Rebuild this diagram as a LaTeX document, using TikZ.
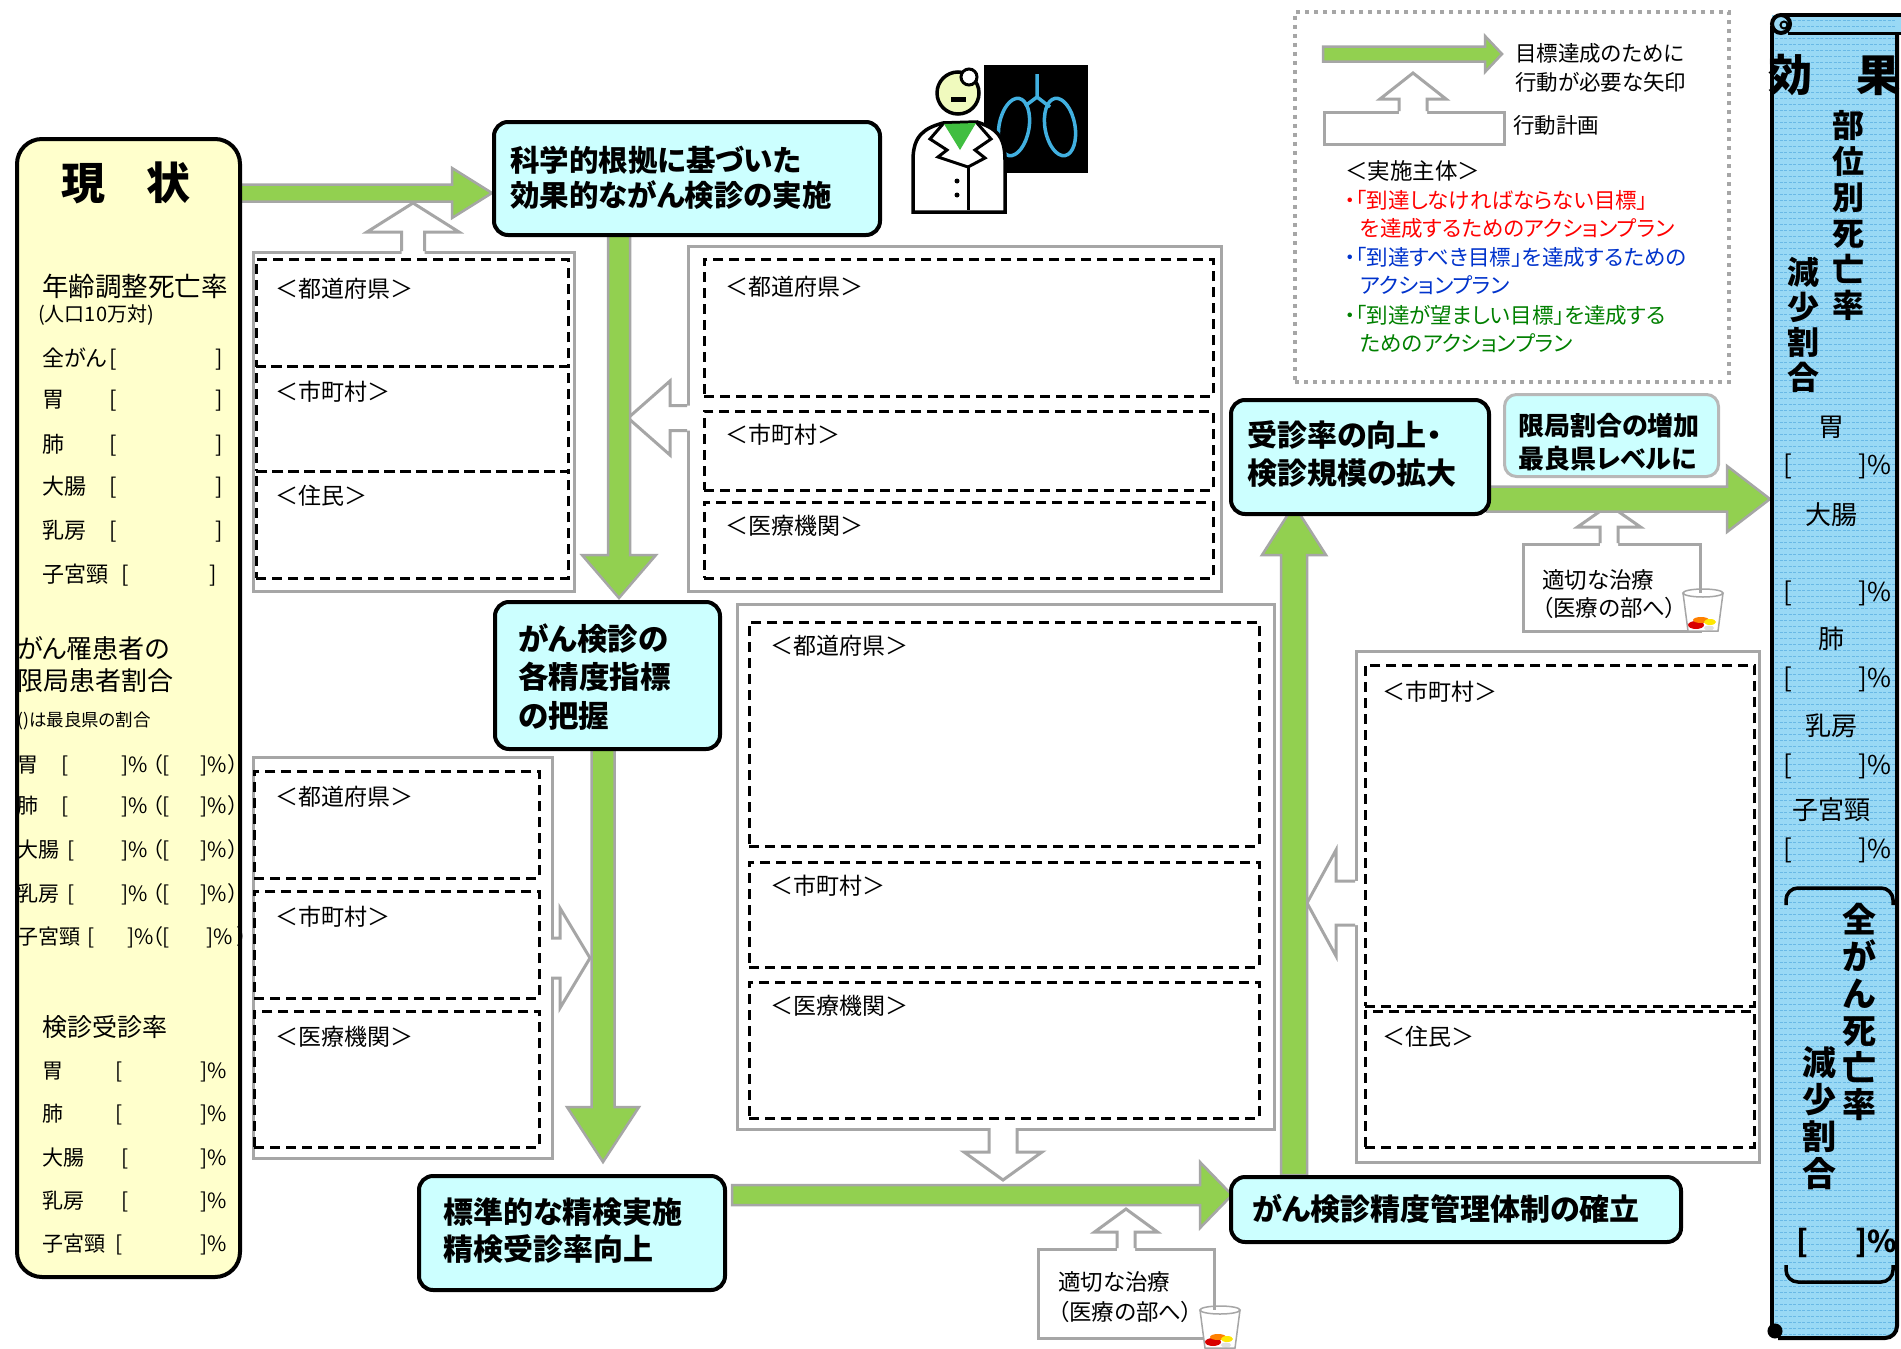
\documentclass[tikz,border=0pt]{standalone}
\usepackage{fontspec}
\setmainfont{Noto Sans CJK JP}[RawFeature=+palt]
\usetikzlibrary{calc}

\definecolor{grn}{RGB}{146,208,80}
\definecolor{gry}{RGB}{166,166,166}
\definecolor{cyanbox}{RGB}{204,255,255}
\definecolor{yelpanel}{RGB}{255,255,204}
\definecolor{scrollblue}{RGB}{153,217,245}
\definecolor{scrollline}{RGB}{105,185,230}
\definecolor{lungblue}{RGB}{65,176,224}
\definecolor{facecol}{RGB}{240,250,190}
\definecolor{collar}{RGB}{64,190,64}
\definecolor{legred}{RGB}{255,0,0}
\definecolor{legblue}{RGB}{0,51,204}
\definecolor{leggreen}{RGB}{0,128,0}

\newcommand\fs[1]{\fontsize{#1}{#1}\selectfont}
\newcommand\fsl[2]{\fontsize{#1}{#2}\selectfont}

% green block arrows: from, to, shaft half-width, head half-width, head length, direction
\newcommand\garrowH[6]{%
  \draw[garrow] let \p1=(#1), \p2=(#2) in
   ({\x1},{\y1+#3pt}) -- ({\x2-(#6)*#5pt},{\y1+#3pt}) -- ({\x2-(#6)*#5pt},{\y1+#4pt}) -- ({\x2},{\y1})
   -- ({\x2-(#6)*#5pt},{\y1-#4pt}) -- ({\x2-(#6)*#5pt},{\y1-#3pt}) -- ({\x1},{\y1-#3pt}) -- cycle;}
\newcommand\garrowV[6]{%
  \draw[garrow] let \p1=(#1), \p2=(#2) in
   ({\x1-#3pt},{\y1}) -- ({\x1-#3pt},{\y2-(#6)*#5pt}) -- ({\x1-#4pt},{\y2-(#6)*#5pt}) -- ({\x1},{\y2})
   -- ({\x1+#4pt},{\y2-(#6)*#5pt}) -- ({\x1+#3pt},{\y2-(#6)*#5pt}) -- ({\x1+#3pt},{\y1}) -- cycle;}
% hollow arrows open into the box they leave
\newcommand\hollowH[6]{%
  \fill[white] let \p1=(#1), \p2=(#2) in
   ({\x1-(#6)*3pt},{\y1+#3pt}) -- ({\x2-(#6)*#5pt},{\y1+#3pt}) -- ({\x2-(#6)*#5pt},{\y1+#4pt}) -- ({\x2},{\y1})
   -- ({\x2-(#6)*#5pt},{\y1-#4pt}) -- ({\x2-(#6)*#5pt},{\y1-#3pt}) -- ({\x1-(#6)*3pt},{\y1-#3pt}) -- cycle;
  \draw[hollow] let \p1=(#1), \p2=(#2) in
   ({\x1},{\y1+#3pt}) -- ({\x2-(#6)*#5pt},{\y1+#3pt}) -- ({\x2-(#6)*#5pt},{\y1+#4pt}) -- ({\x2},{\y1})
   -- ({\x2-(#6)*#5pt},{\y1-#4pt}) -- ({\x2-(#6)*#5pt},{\y1-#3pt}) -- ({\x1},{\y1-#3pt});}
\newcommand\hollowV[6]{%
  \fill[white] let \p1=(#1), \p2=(#2) in
   ({\x1-#3pt},{\y1-(#6)*3pt}) -- ({\x1-#3pt},{\y2-(#6)*#5pt}) -- ({\x1-#4pt},{\y2-(#6)*#5pt}) -- ({\x1},{\y2})
   -- ({\x1+#4pt},{\y2-(#6)*#5pt}) -- ({\x1+#3pt},{\y2-(#6)*#5pt}) -- ({\x1+#3pt},{\y1-(#6)*3pt}) -- cycle;
  \draw[hollow] let \p1=(#1), \p2=(#2) in
   ({\x1-#3pt},{\y1}) -- ({\x1-#3pt},{\y2-(#6)*#5pt}) -- ({\x1-#4pt},{\y2-(#6)*#5pt}) -- ({\x1},{\y2})
   -- ({\x1+#4pt},{\y2-(#6)*#5pt}) -- ({\x1+#3pt},{\y2-(#6)*#5pt}) -- ({\x1+#3pt},{\y1});}

% glass of medicine
\newcommand\pillglass[2]{%
  \begin{scope}[shift={(#1,#2)}]
    \fill[white] (0,5) -- (5,43) -- (35,43) -- (40,5) -- cycle;
    \fill[red!85!black] (13,37) ellipse[x radius=8, y radius=4];
    \fill[orange] (18,32) ellipse[x radius=8, y radius=3];
    \fill[yellow!90!orange] (27,34) ellipse[x radius=6, y radius=3];
    \fill[gray!25] (26,40) ellipse[x radius=5, y radius=2.5];
    \draw[gray!70, line width=1.5] (0,5) -- (5,43) -- (35,43) -- (40,5);
    \draw[gray!70, line width=1.5] (20,5) ellipse[x radius=20, y radius=4];
  \end{scope}}

\begin{document}
\begin{tikzpicture}[x=1pt,y=-1pt, line join=miter,
  garrow/.style={fill=grn, draw=gry, line width=2.5},
  hollow/.style={draw=gry, line width=3},
  planbox/.style={draw=gry, line width=3, fill=white, anchor=north west, inner sep=0},
  dashbox/.style={draw=black, line width=2.5, dash pattern=on 10pt off 6pt, anchor=north west, inner sep=0},
  bluebox/.style={fill=cyanbox, draw=black, line width=4, rounded corners=14, anchor=north west, inner sep=0},
  txt/.style={inner sep=0, anchor=west},
  lab/.style={txt, font=\fs{23}},
  legtxt/.style={txt, font=\fs{21.5}}]

\fill[white] (0,0) rectangle (1901,1349);
\useasboundingbox (0,0) rectangle (1901,1349);

% ---------- legend ----------
\node[draw=gry, line width=4, dash pattern=on 4pt off 5pt, anchor=north west, inner sep=0,
      minimum width=434, minimum height=370] (legend) at (1293,10) {};
\node[draw=gry, line width=3, anchor=north west, inner sep=0, minimum width=180, minimum height=32] (legplan) at (1323,111) {};
\node[legtxt] (leg1) at (1515,53) {目標達成のために};
\node[legtxt] (leg2) at (1515,82) {行動が必要な矢印};
\node[legtxt] (leg3) at (1513,125) {行動計画};
\node[legtxt, font=\fs{22.5}] (leg4) at (1345,171) {＜実施主体＞};
\node[legtxt, text=legred] (leg5) at (1345,200) {・「到達しなければならない目標」};
\node[legtxt, text=legred] (leg6) at (1360,228) {を達成するためのアクションプラン};
\node[legtxt, text=legblue] (leg7) at (1345,257) {・「到達すべき目標」を達成するための};
\node[legtxt, text=legblue] (leg8) at (1360,285) {アクションプラン};
\node[legtxt, text=leggreen] (leg9) at (1345,315) {・「到達が望ましい目標」を達成する};
\node[legtxt, text=leggreen] (leg10) at (1360,343) {ためのアクションプラン};

% ---------- action plan boxes ----------
\node[planbox, minimum width=321, minimum height=339] (planA) at (252,251) {};
\node[planbox, minimum width=533, minimum height=345] (planB) at (687,245) {};
\node[planbox, minimum width=299, minimum height=401] (planC) at (252,756) {};
\node[planbox, minimum width=537, minimum height=525] (planD) at (736,603) {};
\node[planbox, minimum width=403, minimum height=511] (planE) at (1355,650) {};
\node[planbox, minimum width=177, minimum height=87] (treatU) at (1522,543) {};
\node[planbox, minimum width=176, minimum height=89] (treatL) at (1037,1248) {};

\node[dashbox, minimum width=312, minimum height=107] (A1) at (255,258) {};
\node[dashbox, minimum width=312, minimum height=105] (A2) at (255,365) {};
\node[dashbox, minimum width=312, minimum height=107] (A3) at (255,470) {};
\node[lab] (lA1) at (275,289) {＜都道府県＞};
\node[lab] (lA2) at (275,392) {＜市町村＞};
\node[lab] (lA3) at (275,496) {＜住民＞};

\node[dashbox, minimum width=509, minimum height=137] (B1) at (703,258) {};
\node[dashbox, minimum width=509, minimum height=79] (B2) at (703,410) {};
\node[dashbox, minimum width=509, minimum height=76] (B3) at (703,501) {};
\node[lab] (lB1) at (725,287) {＜都道府県＞};
\node[lab] (lB2) at (725,435) {＜市町村＞};
\node[lab] (lB3) at (725,526) {＜医療機関＞};

\node[dashbox, minimum width=285, minimum height=107] (C1) at (253,770) {};
\node[dashbox, minimum width=285, minimum height=107] (C2) at (253,890) {};
\node[dashbox, minimum width=285, minimum height=136] (C3) at (253,1010) {};
\node[lab] (lC1) at (275,797) {＜都道府県＞};
\node[lab] (lC2) at (275,917) {＜市町村＞};
\node[lab] (lC3) at (275,1037) {＜医療機関＞};

\node[dashbox, minimum width=510, minimum height=224] (D1) at (748,621) {};
\node[dashbox, minimum width=510, minimum height=105] (D2) at (748,861) {};
\node[dashbox, minimum width=510, minimum height=136] (D3) at (748,981) {};
\node[lab] (lD1) at (770,646) {＜都道府県＞};
\node[lab] (lD2) at (770,886) {＜市町村＞};
\node[lab] (lD3) at (770,1006) {＜医療機関＞};

\node[dashbox, minimum width=389, minimum height=341] (E1) at (1364,664) {};
\node[dashbox, minimum width=389, minimum height=136] (E2) at (1364,1010) {};
\node[lab] (lE1) at (1382,692) {＜市町村＞};
\node[lab] (lE2) at (1382,1037) {＜住民＞};

\node[txt, font=\fsl{22.5}{28}, align=left] (tU) at (1542,594) {適切な治療\\（医療の部へ）};
\node[txt, font=\fsl{22.5}{30}, align=left] (tL) at (1058,1297) {適切な治療\\（医療の部へ）};

% ---------- hollow arrows (action plans) ----------
\coordinate (h1s) at (413,251);  \coordinate (h1e) at (413,203);
\coordinate (h2s) at (687,418);  \coordinate (h2e) at (628,418);
\coordinate (h3s) at (551,958);  \coordinate (h3e) at (590,958);
\coordinate (h4s) at (1003,1128); \coordinate (h4e) at (1003,1180);
\coordinate (h5s) at (1126,1248); \coordinate (h5e) at (1126,1209);
\coordinate (h6s) at (1355,903); \coordinate (h6e) at (1307,903);
\coordinate (h7s) at (1609,543); \coordinate (h7e) at (1609,505);
\coordinate (h8s) at (1413,111); \coordinate (h8e) at (1413,73);
\hollowV{h1s}{h1e}{11.5}{46}{29}{1}
\hollowH{h2s}{h2e}{12.5}{37}{42}{-1}
\hollowH{h3s}{h3e}{20}{50}{30}{1}
\hollowV{h4s}{h4e}{14}{39}{28}{-1}
\hollowV{h5s}{h5e}{9}{31.5}{23}{1}
\hollowH{h6s}{h6e}{22}{53}{29}{-1}
\hollowV{h7s}{h7e}{9}{31.5}{22}{1}
\hollowV{h8s}{h8e}{14}{33}{26}{1}

% ---------- green arrows ----------
\coordinate (g1s) at (238,193);  \coordinate (g1e) at (492,193);
\coordinate (g2s) at (619,233);  \coordinate (g2e) at (619,598);
\coordinate (g3s) at (603,747);  \coordinate (g3e) at (603,1162);
\coordinate (g4s) at (732,1195); \coordinate (g4e) at (1232,1195);
\coordinate (g5s) at (1294,1175); \coordinate (g5e) at (1294,505);
\coordinate (g6s) at (1487,499); \coordinate (g6e) at (1770,499);
\coordinate (g7s) at (1323,54);  \coordinate (g7e) at (1502,54);
\garrowH{g1s}{g1e}{8.5}{25}{40}{1}
\garrowV{g2s}{g2e}{11}{37}{43}{-1}
\garrowV{g3s}{g3e}{11.5}{36}{55}{-1}
\garrowH{g4s}{g4e}{10}{33}{32}{1}
\garrowV{g5s}{g5e}{13}{32}{50}{1}
\garrowH{g6s}{g6e}{12.5}{33}{43}{1}
\garrowH{g7s}{g7e}{7.5}{18}{17}{1}

% ---------- goal boxes ----------
\node[bluebox, minimum width=386, minimum height=113] (box1) at (492,120) {};
\node[txt, font=\fsl{29.5}{35}\bfseries, align=left] (t1) at (510,178) {科学的根拠に基づいた\\効果的ながん検診の実施};
\node[bluebox, minimum width=225, minimum height=147] (box2) at (493,600) {};
\node[txt, font=\fsl{30.5}{38.5}\bfseries, align=left] (t2) at (518,677) {がん検診の\\各精度指標\\の把握};
\node[bluebox, minimum width=306, minimum height=114] (box3) at (417,1174) {};
\node[txt, font=\fsl{30}{37}\bfseries, align=left] (t3) at (443,1231) {標準的な精検実施\\精検受診率向上};
\node[bluebox, minimum width=450, minimum height=65] (box4) at (1229,1175) {};
\node[txt, font=\fs{30}\bfseries] (t4) at (1252,1209) {がん検診精度管理体制の確立};
\node[bluebox, minimum width=258, minimum height=114] (box5) at (1229,398) {};
\node[txt, font=\fsl{30}{38}\bfseries, align=left] (t5) at (1247,454) {受診率の向上・\\検診規模の拡大};
\node[bluebox, draw=gry!80, line width=3, rounded corners=12, minimum width=214, minimum height=82] (box6) at (1503,393) {};
\node[txt, font=\fsl{26}{33}\bfseries, align=left] (t6) at (1518,442) {限局割合の増加\\最良県レベルに};

% ---------- current status panel ----------
\node[fill=yelpanel, draw=black, line width=4, rounded corners=25, anchor=north west, inner sep=0,
      minimum width=223, minimum height=1138] (status) at (15,137) {};
\node[txt, anchor=center, font=\fs{44}\bfseries] (s0) at (126,183) {現\hspace{42pt}状};
\node[txt, font=\fs{26.5}] (s1) at (42,286) {年齢調整死亡率};
\node[txt, font=\fs{20}] (s2) at (38,315) {(人口10万対)};
\node[txt, font=\fs{22}] (s3) at (42,359) {\makebox[67pt][l]{全がん}\makebox[106pt][l]{[}]};
\node[txt, font=\fs{22}] (s4) at (42,401) {\makebox[67pt][l]{胃}\makebox[106pt][l]{[}]};
\node[txt, font=\fs{22}] (s5) at (42,445) {\makebox[67pt][l]{肺}\makebox[106pt][l]{[}]};
\node[txt, font=\fs{22}] (s6) at (42,487) {\makebox[67pt][l]{大腸}\makebox[106pt][l]{[}]};
\node[txt, font=\fs{22}] (s7) at (42,531) {\makebox[67pt][l]{乳房}\makebox[106pt][l]{[}]};
\node[txt, font=\fs{22}] (s8) at (42,575) {\makebox[79pt][l]{子宮頸}\makebox[88pt][l]{[}]};

\node[txt, font=\fs{26}] (s9) at (17,649) {がん罹患者の};
\node[txt, font=\fs{26}] (s10) at (17,681) {限局患者割合};
\node[txt, font=\fs{17.5}] (s11) at (17,721) {()は最良県の割合};
\node[txt, font=\fs{21}] (s12) at (17,765) {\makebox[44pt][l]{胃}\makebox[60pt][l]{[}\makebox[31pt][l]{]\%}\makebox[48pt][l]{（[}\makebox[28pt][l]{]\%}）};
\node[txt, font=\fs{21}] (s13) at (17,806) {\makebox[44pt][l]{肺}\makebox[60pt][l]{[}\makebox[31pt][l]{]\%}\makebox[48pt][l]{（[}\makebox[28pt][l]{]\%}）};
\node[txt, font=\fs{21}] (s14) at (17,850) {\makebox[50pt][l]{大腸}\makebox[54pt][l]{[}\makebox[31pt][l]{]\%}\makebox[48pt][l]{（[}\makebox[28pt][l]{]\%}）};
\node[txt, font=\fs{21}] (s15) at (17,894) {\makebox[50pt][l]{乳房}\makebox[54pt][l]{[}\makebox[31pt][l]{]\%}\makebox[48pt][l]{（[}\makebox[28pt][l]{]\%}）};
\node[txt, font=\fs{21}] (s16) at (17,937) {\makebox[70pt][l]{子宮頸}\makebox[40pt][l]{[}\makebox[25pt][l]{]\%}\makebox[54pt][l]{（[}\makebox[31pt][l]{]\%}）};

\node[txt, font=\fs{25}] (s17) at (42,1027) {検診受診率};
\node[txt, font=\fs{21}] (s18) at (42,1072) {\makebox[73pt][l]{胃}\makebox[85pt][l]{[}]\%};
\node[txt, font=\fs{21}] (s19) at (42,1115) {\makebox[73pt][l]{肺}\makebox[85pt][l]{[}]\%};
\node[txt, font=\fs{21}] (s20) at (42,1158) {\makebox[79pt][l]{大腸}\makebox[79pt][l]{[}]\%};
\node[txt, font=\fs{21}] (s21) at (42,1201) {\makebox[79pt][l]{乳房}\makebox[79pt][l]{[}]\%};
\node[txt, font=\fs{21}] (s22) at (42,1244) {\makebox[73pt][l]{子宮頸}\makebox[85pt][l]{[}]\%};

% ---------- effect scroll ----------
\fill[scrollblue] (1772,15) -- (1905,15) -- (1905,33) -- (1897,33) [rounded corners=12] -- (1897,1338) -- (1772,1338) [sharp corners] -- cycle;
\foreach \yy in {20,26,...,1334}
  \draw[scrollline, line width=0.8, dash pattern=on 3pt off 1.5pt] (1775,\yy) -- (1895,\yy);
\draw[line width=4] (1905,15) -- (1781,15);
\draw[line width=4, fill=scrollblue] (1781,24) circle[radius=9];
\draw[line width=2] (1784,25) circle[radius=3.5];
\draw[line width=4] (1772,26) -- (1772,1332);
\draw[line width=3] (1788,33) -- (1905,33);
\draw[line width=4] (1897,33) [rounded corners=12] -- (1897,1338) -- (1778,1338);
\draw[line width=3, fill=black] (1775,1331) circle[radius=6];
\draw[line width=3.5, rounded corners=12] (1786,905) -- (1786,888) -- (1893,888) -- (1893,905);
\draw[line width=3.5, rounded corners=12] (1786,1265) -- (1786,1282) -- (1893,1282) -- (1893,1265);

\node[txt, anchor=center, font=\fs{44}\bfseries] (e0) at (1834,75) {効\hspace{44pt}果};
\node[txt, anchor=center, font=\fsl{32}{36}\bfseries, align=center] (e1) at (1848,215) {部\\位\\別\\死\\亡\\率};
\node[txt, anchor=center, font=\fsl{32}{35}\bfseries, align=center] (e2) at (1803,325) {減\\少\\割\\合};
\node[txt, anchor=center, font=\fs{26}] (e3) at (1831,427) {胃};
\node[txt, font=\fs{26}] (e3a) at (1783,466) {[};
\node[txt, font=\fs{26}] (e3b) at (1858,466) {]\%};
\node[txt, anchor=center, font=\fs{26}] (e4) at (1831,515) {大腸};
\node[txt, font=\fs{26}] (e4a) at (1783,593) {[};
\node[txt, font=\fs{26}] (e4b) at (1858,593) {]\%};
\node[txt, anchor=center, font=\fs{26}] (e5) at (1831,639) {肺};
\node[txt, font=\fs{26}] (e5a) at (1783,679) {[};
\node[txt, font=\fs{26}] (e5b) at (1858,679) {]\%};
\node[txt, anchor=center, font=\fs{26}] (e6) at (1831,726) {乳房};
\node[txt, font=\fs{26}] (e6a) at (1783,766) {[};
\node[txt, font=\fs{26}] (e6b) at (1858,766) {]\%};
\node[txt, anchor=center, font=\fs{26}] (e7) at (1831,810) {子宮頸};
\node[txt, font=\fs{26}] (e7a) at (1783,850) {[};
\node[txt, font=\fs{26}] (e7b) at (1858,850) {]\%};
\node[txt, anchor=center, font=\fsl{34}{37}\bfseries, align=center] (e8) at (1859,1012) {全\\が\\ん\\死\\亡\\率};
\node[txt, anchor=center, font=\fsl{34}{37}\bfseries, align=center] (e9) at (1819,1118) {減\\少\\割\\合};
\node[txt, font=\fs{30}\bfseries] (e10a) at (1796,1243) {[};
\node[txt, font=\fs{30}\bfseries] (e10b) at (1855,1243) {]\%};

% ---------- doctor with chest x-ray ----------
\fill[black] (984,65) rectangle (1088,173);
\draw[lungblue, line width=3.5, rotate around={-10:(1014,127)}] (1014,127) ellipse[x radius=15, y radius=29];
\draw[lungblue, line width=3.5, rotate around={10:(1060,127)}] (1060,127) ellipse[x radius=15, y radius=29];
\draw[lungblue, line width=3.5] (1037,74) -- (1037,97) -- (1025,106);
\draw[lungblue, line width=3.5] (1037,97) -- (1050,107);
\draw[line width=3.5, fill=white] (913,212) -- (913,160) .. controls (913,135) and (925,128) .. (943,123)
  -- (977,122) .. controls (995,128) and (1005,135) .. (1005,160) -- (1005,212) -- cycle;
\fill[collar] (944,124) -- (976,123) -- (960,150) -- cycle;
\draw[line width=3] (943,124) -- (930,139) -- (947,150) -- (938,157) -- (968,167);
\draw[line width=3] (977,123) -- (991,139) -- (975,150) -- (985,158) -- (968,167);
\draw[line width=3] (968,167) -- (968,210);
\fill (957,181) circle[radius=2.5];
\fill (957,195) circle[radius=2.5];
\draw[line width=3.5, fill=facecol] (958,93) circle[radius=21];
\fill (951,97) rectangle (966,102);
\draw[line width=3, fill=white] (969,77) circle[radius=8];

% ---------- medicine glasses ----------
\pillglass{1683}{588}
\pillglass{1200}{1305}

\end{tikzpicture}
\end{document}
